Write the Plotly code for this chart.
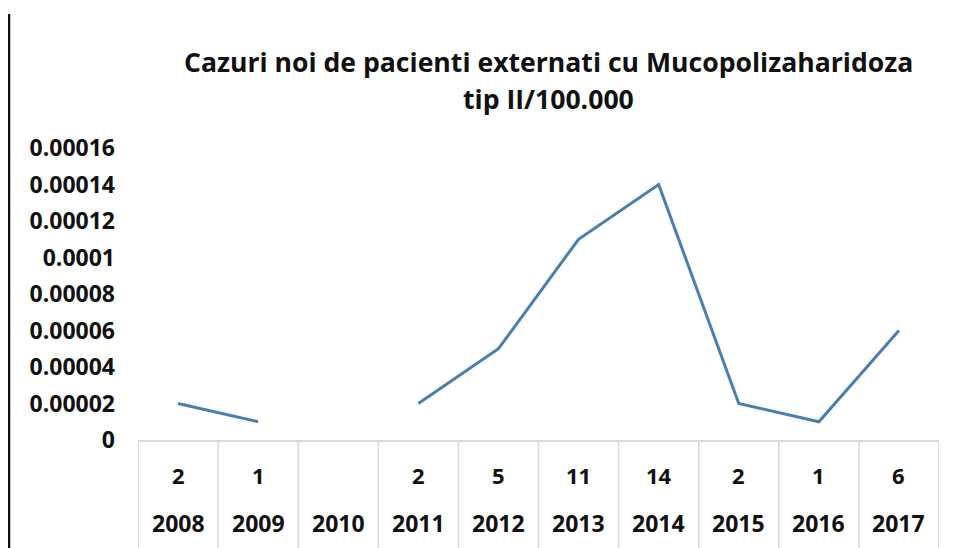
import plotly.graph_objects as go

years = ["2008", "2009", "2010", "2011", "2012", "2013", "2014", "2015", "2016", "2017"]
cases = ["2", "1", "", "2", "5", "11", "14", "2", "1", "6"]
rate = [0.00002, 0.00001, None, 0.00002, 0.00005, 0.00011, 0.00014, 0.00002, 0.00001, 0.00006]
y_tickvals = [0, 0.00002, 0.00004, 0.00006, 0.00008, 0.0001, 0.00012, 0.00014, 0.00016]
y_ticktext = ["0", "0.00002", "0.00004", "0.00006", "0.00008", "0.0001", "0.00012", "0.00014", "0.00016"]
title_line1 = "Cazuri noi de pacienti externati cu Mucopolizaharidoza"
title_line2 = "tip II/100.000"

W, H = 956, 548
O = 8  # page body margin offset
PL, PR, PT, PB = 138, 939, 148, 440  # plot box in screen pixels
ML, MT = PL - O, PT - O
MR, MB = W - (PR - O), H - (PB - O)
PH = PB - PT
PW = PR - PL
FONT = "Open Sans"
INK = "#111111"


def py(p):
    return (PB - p) / PH


def px(p):
    return (p - PL) / PW


x_idx = list(range(len(years)))

fig = go.Figure()
fig.add_trace(go.Scatter(
    x=x_idx, y=rate, mode="lines", connectgaps=False,
    line=dict(color="#4a7eae", width=3), showlegend=False, hoverinfo="skip"))

shapes = []
for k in range(len(years) + 1):
    shapes.append(dict(type="line", xref="x", yref="paper",
                       x0=k - 0.5, x1=k - 0.5, y0=0, y1=py(560),
                       line=dict(color="#d9d9d9", width=1.5)))
shapes.append(dict(type="line", xref="paper", yref="paper",
                   x0=px(9), x1=px(9), y0=py(14), y1=py(560),
                   line=dict(color=INK, width=2.5)))

annotations = []
for i, (c, yr) in enumerate(zip(cases, years)):
    if c:
        annotations.append(dict(x=i, y=py(475), xref="x", yref="paper",
                                text="<b>" + c + "</b>", showarrow=False,
                                font=dict(family=FONT, size=22, color=INK),
                                xanchor="center", yanchor="middle"))
    annotations.append(dict(x=i, y=py(523), xref="x", yref="paper",
                            text="<b>" + yr + "</b>", showarrow=False,
                            font=dict(family=FONT, size=23, color=INK),
                            xanchor="center", yanchor="middle"))
for txt, row in ((title_line1, 62), (title_line2, 99)):
    annotations.append(dict(x=px(548), y=py(row), xref="paper", yref="paper",
                            text="<b>" + txt + "</b>", showarrow=False,
                            font=dict(family=FONT, size=26.6, color=INK),
                            xanchor="center", yanchor="middle"))

fig.update_layout(
    width=W, height=H,
    margin=dict(l=ML, r=MR, t=MT, b=MB),
    paper_bgcolor="white", plot_bgcolor="white",
    xaxis=dict(range=[-0.5, len(years) - 0.5], showgrid=False, zeroline=False,
               showticklabels=False, showline=True, linecolor="#d9d9d9", linewidth=1.5,
               fixedrange=True),
    yaxis=dict(range=[0, 0.00016], tickvals=y_tickvals,
               ticktext=["<b>" + t + "</b>" for t in y_ticktext],
               showgrid=False, zeroline=False, showline=False,
               tickfont=dict(family=FONT, size=23, color=INK),
               ticklabelstandoff=22, fixedrange=True),
    shapes=shapes, annotations=annotations,
)

fig.write_html("out.html")
